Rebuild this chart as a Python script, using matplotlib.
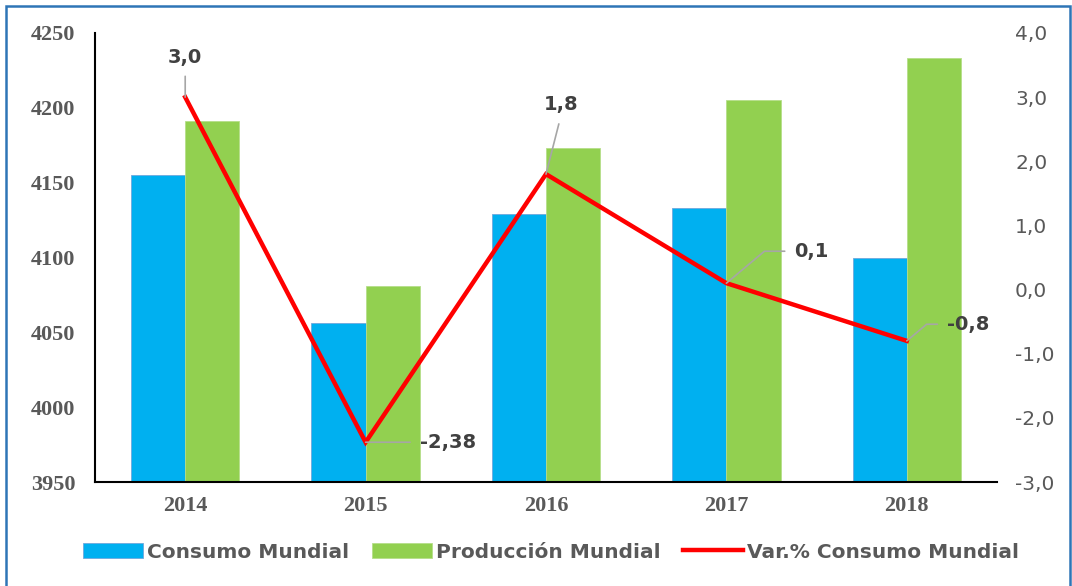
import matplotlib
matplotlib.use("Agg")
import matplotlib.pyplot as plt
from matplotlib.patches import Rectangle
import numpy as np

years = ["2014", "2015", "2016", "2017", "2018"]
consumo = [4155, 4056, 4129, 4133, 4100]
produccion = [4191, 4081, 4173, 4205, 4233]
var_consumo = [3.0, -2.38, 1.8, 0.1, -0.8]
var_labels = ["3,0", "-2,38", "1,8", "0,1", "-0,8"]

left_ticks = [3950, 4000, 4050, 4100, 4150, 4200, 4250]
right_ticks = [-3.0, -2.0, -1.0, 0.0, 1.0, 2.0, 3.0, 4.0]
right_tick_labels = ["-3,0", "-2,0", "-1,0", "0,0", "1,0", "2,0", "3,0", "4,0"]

# desplazamientos de etiquetas (puntos) y estilo de la guía
label_offsets = [(0, 22), (39, 0), (11, 43), (49, 23), (29, 12)]
label_ha = ["center", "left", "center", "left", "left"]
label_va = ["bottom", "center", "bottom", "center", "center"]

BLUE = "#00B0F0"
GREEN = "#92D050"
RED = "#FF0000"
GRAY_TXT = "#595959"
DARK_TXT = "#404040"

fig = plt.figure(figsize=(10.72, 5.86), dpi=100)

# marco azul del gráfico
fig.patches.append(Rectangle((6 / 1072, -0.01), 1064 / 1072, 1 - 6 / 586 + 0.01,
                             transform=fig.transFigure, fill=False,
                             edgecolor="#2E75B6", linewidth=1.8))

ax = fig.add_axes([95 / 1072, 1 - 482 / 586, 902 / 1072, 449 / 586])
x = np.arange(len(years))
w = 0.3

b1 = ax.bar(x - w / 2, consumo, w, color=BLUE, edgecolor="#6FA8DC", linewidth=0.6,
            label="Consumo Mundial")
b2 = ax.bar(x + w / 2, produccion, w, color=GREEN, edgecolor="#B5DE8A", linewidth=0.6,
            label="Producción Mundial")

ax.set_xlim(-0.5, len(years) - 0.5)
ax.set_ylim(3950, 4250)
ax.set_yticks(left_ticks)
ax.set_yticklabels([str(t) for t in left_ticks], family="Liberation Serif",
                   fontweight="bold", fontsize=16, color=GRAY_TXT)
ax.set_xticks(x)
ax.set_xticklabels(years, family="Liberation Serif", fontweight="bold",
                   fontsize=16, color=GRAY_TXT)
ax.tick_params(axis="both", length=0)
ax.tick_params(axis="y", pad=14)
ax.tick_params(axis="x", pad=10)
for s in ["top", "right"]:
    ax.spines[s].set_visible(False)
ax.spines["left"].set_linewidth(1.5)
ax.spines["bottom"].set_linewidth(1.5)

ax2 = ax.twinx()
ln, = ax2.plot(x, var_consumo, color=RED, linewidth=3.2, solid_joinstyle="miter",
               label="Var.% Consumo Mundial")
ax2.set_ylim(-3.0, 4.0)
ax2.set_yticks(right_ticks)
ax2.set_yticklabels(right_tick_labels, fontsize=14.5, color=GRAY_TXT)
ax2.tick_params(axis="y", length=0, pad=13)
for s in ax2.spines.values():
    s.set_visible(False)

for i in range(len(years)):
    if i == 3 or i == 4:
        conn = "angle,angleA=0,angleB=40,rad=0"
        relpos = (0, 0.5)
    elif i == 1:
        conn = "arc3"
        relpos = (0, 0.5)
    else:
        conn = "arc3"
        relpos = (0.5, 0)
    ax2.annotate(var_labels[i], xy=(x[i], var_consumo[i]), xytext=label_offsets[i],
                 textcoords="offset points", ha=label_ha[i], va=label_va[i],
                 fontsize=14, fontweight="bold", color=DARK_TXT,
                 arrowprops=dict(arrowstyle="-", color="#A6A6A6", lw=1.2,
                                 connectionstyle=conn, relpos=relpos,
                                 shrinkA=5, shrinkB=0))

fig.legend([b1, b2, ln], ["Consumo Mundial", "Producción Mundial", "Var.% Consumo Mundial"],
           loc="center", bbox_to_anchor=(551 / 1072, 1 - 552 / 586), ncol=3,
           frameon=False, handlelength=3.0, handletextpad=0.2, columnspacing=1.1,
           prop={"family": "DejaVu Sans", "weight": "bold", "size": 14.5},
           labelcolor=GRAY_TXT)

fig.savefig("out.png", dpi=100)
